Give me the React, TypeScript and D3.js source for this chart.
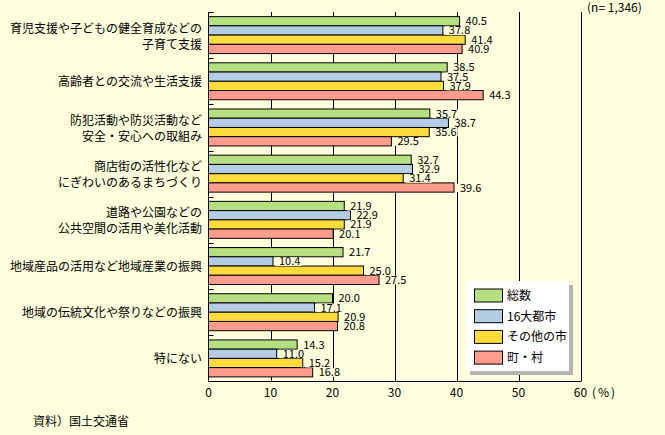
import React from "react";
import * as d3 from "d3";

const categories: string[][] = [
  ["育児支援や子どもの健全育成などの", "子育て支援"],
  ["高齢者との交流や生活支援"],
  ["防犯活動や防災活動など", "安全・安心への取組み"],
  ["商店街の活性化など", "にぎわいのあるまちづくり"],
  ["道路や公園などの", "公共空間の活用や美化活動"],
  ["地域産品の活用など地域産業の振興"],
  ["地域の伝統文化や祭りなどの振興"],
  ["特にない"],
];

const seriesNames = ["総数", "16大都市", "その他の市", "町・村"];
const totalValues = [40.5, 38.5, 35.7, 32.7, 21.9, 21.7, 20.0, 14.3];
const big16Values = [37.8, 37.5, 38.7, 32.9, 22.9, 10.4, 17.1, 11.0];
const otherCityValues = [41.4, 37.9, 35.6, 31.4, 21.9, 25.0, 20.9, 15.2];
const townValues = [40.9, 44.3, 29.5, 39.6, 20.1, 27.5, 20.8, 16.8];
const xTicks = [0, 10, 20, 30, 40, 50, 60];

const seriesValues = [totalValues, big16Values, otherCityValues, townValues];
const colors = ["#B5DF80", "#B4CDE4", "#FFDC3C", "#FF9C8C"];
const BG = "#FFFFDD";
const FONT = "'Noto Sans CJK JP', 'Noto Sans', sans-serif";

export default function App() {
  const W = 665, H = 435;
  const x0 = 208.5, x1 = 580.5, yTop = 12, yBot = 381.5;
  const x = d3.scaleLinear().domain([0, 60]).range([x0, x1]);
  const catKeys = categories.map((_, i) => String(i));
  const y = d3.scaleBand<string>().domain(catKeys).range([yTop, yBot]).padding(0);
  const ySub = d3
    .scaleBand<string>()
    .domain(seriesNames)
    .range([0, y.bandwidth()])
    .paddingInner(0)
    .paddingOuter(0.5);

  return (
    <svg
      width={W}
      height={H}
      style={{ position: "absolute", left: 0, top: 0, fontFamily: FONT }}
    >
      <rect x={0} y={0} width={W} height={H} fill={BG} />
      {/* gridlines */}
      {xTicks.slice(1).map((t) => (
        <line
          key={"g" + t}
          x1={Math.round(x(t)) + 0.5}
          x2={Math.round(x(t)) + 0.5}
          y1={yTop}
          y2={yBot}
          stroke="#000"
          strokeWidth={1}
        />
      ))}
      {/* bars */}
      {categories.map((_, ci) =>
        seriesNames.map((s, si) => {
          const v = seriesValues[si][ci];
          const by = (y(String(ci)) as number) + (ySub(s) as number);
          return (
            <rect
              key={`b${ci}-${si}`}
              x={x(0)}
              y={by}
              width={x(v) - x(0)}
              height={ySub.bandwidth()}
              fill={colors[si]}
              stroke="#000"
              strokeWidth={1}
            />
          );
        })
      )}
      {/* value labels */}
      {categories.map((_, ci) =>
        seriesNames.map((s, si) => {
          const v = seriesValues[si][ci];
          const by = (y(String(ci)) as number) + (ySub(s) as number);
          const cy = by + ySub.bandwidth() / 2;
          const tx = x(v) + 6;
          return (
            <g key={`l${ci}-${si}`}>
              <rect x={x(v) + 2.5} y={cy - 4} width={26} height={8.5} fill={BG} />
              <text x={tx} y={cy + 4} fontSize={11} fill="#000">
                {v.toFixed(1)}
              </text>
            </g>
          );
        })
      )}
      {/* axes */}
      <line x1={x0} x2={x0} y1={yTop} y2={yBot + 0.5} stroke="#000" />
      <line x1={x0} x2={x1 + 0.5} y1={yBot} y2={yBot} stroke="#000" />
      {catKeys.map((k) => (
        <line
          key={"t" + k}
          x1={x0}
          x2={x0 + 5}
          y1={Math.round(y(k) as number) + 0.5}
          y2={Math.round(y(k) as number) + 0.5}
          stroke="#000"
        />
      ))}
      {/* category labels */}
      {categories.map((lines, ci) => {
        const c = (y(String(ci)) as number) + y.bandwidth() / 2;
        const offsets = lines.length === 1 ? [4.5] : [-2.5, 13.5];
        return lines.map((ln, li) => (
          <text
            key={`c${ci}-${li}`}
            x={202}
            y={c + offsets[li]}
            fontSize={12}
            textAnchor="end"
            fill="#000"
          >
            {ln}
          </text>
        ));
      })}
      {/* tick labels */}
      {xTicks.map((t) => (
        <text key={"x" + t} x={x(t)} y={397} fontSize={12} textAnchor="middle" fill="#000">
          {t}
        </text>
      ))}
      <text x={592} y={397} fontSize={12} fill="#000" letterSpacing={2}>
        (%)
      </text>
      <text x={587} y={12} fontSize={12} fill="#000">
        (n= 1,346)
      </text>
      {/* legend */}
      <rect x={470} y={285} width={103} height={90} fill="#B4B4B4" />
      <rect x={466} y={281} width={103} height={90} fill="#FFFFFF" />
      {seriesNames.map((s, si) => {
        const ry = 289 + si * 20.7;
        return (
          <g key={"lg" + si}>
            <rect
              x={474.5}
              y={ry}
              width={28}
              height={13}
              fill={colors[si]}
              stroke="#000"
              strokeWidth={1}
            />
            <text x={507} y={ry + 11} fontSize={12} fill="#000">
              {s}
            </text>
          </g>
        );
      })}
      <text x={33} y={426} fontSize={12} fill="#000">
        資料）国土交通省
      </text>
    </svg>
  );
}
